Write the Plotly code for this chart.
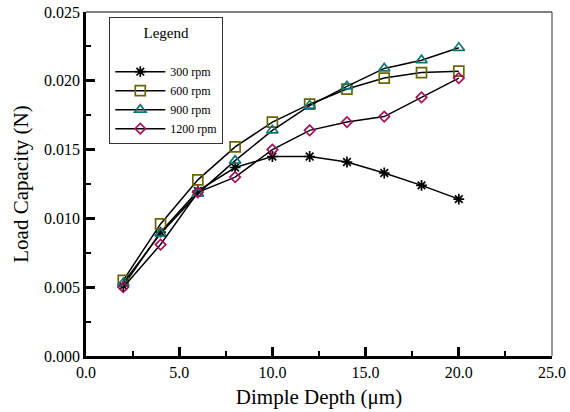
import plotly.graph_objects as go

depth = [2, 4, 6, 8, 10, 12, 14, 16, 18, 20]
rpm300 = [0.0051, 0.0090, 0.0120, 0.0137, 0.0145, 0.0145, 0.0141, 0.0133, 0.0124, 0.0114]
rpm600 = [0.0055, 0.0096, 0.0128, 0.0152, 0.0170, 0.0183, 0.0194, 0.0202, 0.0206, 0.0207]
rpm900 = [0.0053, 0.0089, 0.0118, 0.0142, 0.0164, 0.0182, 0.0196, 0.0209, 0.0215, 0.0224]
rpm1200 = [0.0050, 0.0081, 0.0119, 0.0130, 0.0150, 0.0164, 0.0170, 0.0174, 0.0188, 0.0202]
names = ["300 rpm", "600 rpm", "900 rpm", "1200 rpm"]

series = [rpm300, rpm600, rpm900, rpm1200]
symbols = ["asterisk-open", "square-open", "triangle-up-open", "diamond-open"]
colors = ["#000000", "#666608", "#0f7676", "#a3105c"]
sizes = [9, 10, 10, 8]

FONT = "Liberation Serif"
fig = go.Figure()
for vals, nm, sym, col, sz in zip(series, names, symbols, colors, sizes):
    fig.add_trace(go.Scatter(
        x=depth, y=vals, name=nm, mode="lines+markers",
        line=dict(color="black", width=1.5),
        marker=dict(symbol=sym, size=sz, color=col, line=dict(color=col, width=1.7)),
    ))

fig.update_layout(
    width=570, height=412,
    margin=dict(l=86, r=18, t=12, b=56),
    paper_bgcolor="white", plot_bgcolor="white",
    font=dict(family=FONT, color="black", size=16),
    showlegend=True,
    legend=dict(
        x=0.05, y=0.985, xanchor="left", yanchor="top",
        bgcolor="white", bordercolor="#333", borderwidth=1,
        font=dict(size=12, family=FONT, color="black"),
        title=dict(text="Legend<br> ", side="top center", font=dict(size=15, family=FONT)),
        itemwidth=50, tracegroupgap=0,
    ),
    xaxis=dict(
        range=[0, 25], tick0=0, dtick=5, tickformat=".1f", automargin=False,
        ticklabeloverflow="allow",
        showgrid=False, zeroline=False,
        showline=True, linecolor="black", linewidth=2.5,
        ticks="inside", ticklen=9, tickwidth=2.5, tickcolor="black",
        minor=dict(dtick=2.5, ticks="inside", ticklen=5, tickwidth=2, tickcolor="black", showgrid=False),
        title=dict(text="Dimple Depth (μm)", font=dict(size=21, family=FONT), standoff=10),
        tickfont=dict(size=16, family=FONT, color="black"),
    ),
    yaxis=dict(
        range=[0, 0.025], tick0=0, dtick=0.005, tickformat=".3f", automargin=False,
        ticklabeloverflow="allow",
        showgrid=False, zeroline=False,
        showline=True, linecolor="black", linewidth=2.5,
        ticks="inside", ticklen=9, tickwidth=2.5, tickcolor="black",
        minor=dict(dtick=0.0025, ticks="inside", ticklen=5, tickwidth=2, tickcolor="black", showgrid=False),
        title=dict(text="Load Capacity (N)", font=dict(size=21, family=FONT), standoff=10),
        tickfont=dict(size=16, family=FONT, color="black"),
    ),
    shapes=[
        dict(type="line", xref="paper", yref="paper", x0=0, x1=1, y0=1, y1=1,
             line=dict(color="black", width=1)),
        dict(type="line", xref="paper", yref="paper", x0=1, x1=1, y0=0, y1=1,
             line=dict(color="#555", width=1.2)),
    ],
)

# remove the page's default body margin so the figure fills the window exactly
fig.write_html(
    "out.html",
    config={"displayModeBar": False},
    post_script="document.body.style.margin='0';document.body.style.overflow='hidden';",
)
